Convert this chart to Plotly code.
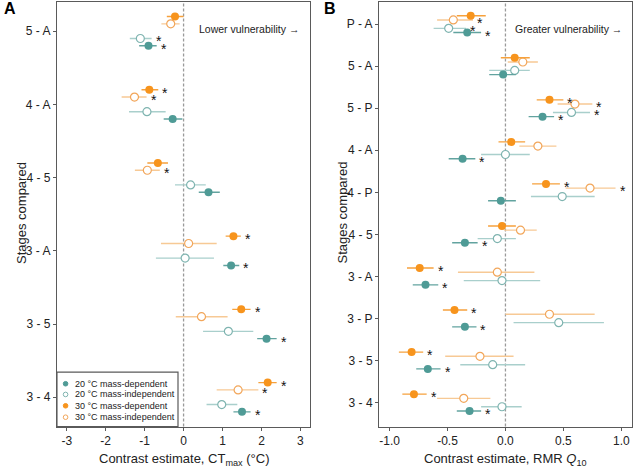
import plotly.graph_objects as go

# ---------------- Data ----------------
# Panel A (CTmax), categories bottom-up
cats_a = ["3 - 4", "3 - 5", "3 - A", "4 - 5", "4 - A", "5 - A"]
a_20dep = [1.50, 2.13, 1.22, 0.64, -0.28, -0.90]
a_20dep_lo = [1.28, 1.89, 1.02, 0.39, -0.51, -1.14]
a_20dep_hi = [1.72, 2.39, 1.43, 0.93, -0.03, -0.69]
a_20ind = [0.98, 1.15, 0.04, 0.18, -0.94, -1.11]
a_20ind_lo = [0.59, 0.50, -0.71, -0.22, -1.40, -1.38]
a_20ind_hi = [1.38, 1.79, 0.78, 0.57, -0.46, -0.82]
a_30dep = [2.16, 1.48, 1.28, -0.66, -0.88, -0.22]
a_30dep_lo = [1.92, 1.25, 1.08, -0.93, -1.08, -0.43]
a_30dep_hi = [2.39, 1.72, 1.47, -0.40, -0.65, 0.00]
a_30ind = [1.40, 0.46, 0.13, -0.93, -1.26, -0.33]
a_30ind_lo = [0.85, -0.20, -0.58, -1.25, -1.59, -0.57]
a_30ind_hi = [1.92, 1.13, 0.85, -0.61, -0.95, -0.10]
a_star_20dep = [1, 1, 1, 0, 0, 1]
a_star_20ind = [0, 0, 0, 0, 0, 1]
a_star_30dep = [1, 1, 1, 0, 1, 0]
a_star_30ind = [1, 0, 0, 1, 1, 0]

# Panel B (RMR Q10), categories bottom-up
cats_b = ["3 - 4", "3 - 5", "3 - P", "3 - A", "4 - 5", "4 - P", "4 - A", "5 - P", "5 - A", "P - A"]
b_20dep = [-0.31, -0.67, -0.35, -0.69, -0.35, -0.04, -0.37, 0.32, -0.02, -0.33]
b_20dep_lo = [-0.42, -0.77, -0.46, -0.80, -0.46, -0.15, -0.49, 0.20, -0.14, -0.45]
b_20dep_hi = [-0.21, -0.56, -0.25, -0.58, -0.24, 0.09, -0.26, 0.42, 0.09, -0.21]
b_20ind = [-0.03, -0.11, 0.46, -0.03, -0.07, 0.49, 0.00, 0.57, 0.08, -0.49]
b_20ind_lo = [-0.21, -0.39, 0.07, -0.36, -0.24, 0.22, -0.21, 0.41, -0.14, -0.62]
b_20ind_hi = [0.14, 0.17, 0.85, 0.30, 0.09, 0.77, 0.21, 0.73, 0.21, -0.34]
b_30dep = [-0.79, -0.81, -0.44, -0.74, -0.03, 0.35, 0.05, 0.38, 0.08, -0.30]
b_30dep_lo = [-0.89, -0.92, -0.54, -0.85, -0.15, 0.23, -0.06, 0.27, -0.04, -0.42]
b_30dep_hi = [-0.68, -0.71, -0.33, -0.62, 0.09, 0.47, 0.17, 0.50, 0.21, -0.17]
b_30ind = [-0.36, -0.22, 0.38, -0.07, 0.13, 0.73, 0.28, 0.60, 0.15, -0.45]
b_30ind_lo = [-0.59, -0.52, 0.00, -0.41, -0.01, 0.52, 0.12, 0.45, 0.02, -0.59]
b_30ind_hi = [-0.13, 0.07, 0.77, 0.25, 0.27, 0.95, 0.44, 0.75, 0.28, -0.28]
b_star_20dep = [1, 1, 1, 1, 1, 0, 1, 1, 0, 1]
b_star_20ind = [0, 0, 0, 0, 0, 0, 0, 1, 0, 1]
b_star_30dep = [1, 1, 1, 1, 0, 1, 0, 1, 0, 0]
b_star_30ind = [0, 0, 0, 0, 0, 1, 0, 1, 0, 1]

x_ticks_a = [-3, -2, -1, 0, 1, 2, 3]
x_ticklabels_a = ["-3", "-2", "-1", "0", "1", "2", "3"]
x_ticks_b = [-1.0, -0.5, 0.0, 0.5, 1.0]
x_ticklabels_b = ["-1.0", "-0.5", "0.0", "0.5", "1.0"]

legend_labels = ["20 °C mass-dependent", "20 °C mass-independent",
                 "30 °C mass-dependent", "30 °C mass-independent"]

# ---------------- Styles ----------------
FONT = "Arial, Liberation Sans, sans-serif"
TEAL = "#4f9b96"
TEAL_BAR = "#62a39f"
TEAL_OPEN = "#7fb4b0"
TEAL_OPEN_BAR = "#a9cfcc"
ORANGE = "#f7941d"
ORANGE_BAR = "#f6a13c"
ORANGE_OPEN = "#f2a65a"
ORANGE_OPEN_BAR = "#f7c995"
AXIS = "#5a5a5a"
TXT = "#222222"

series_style = {
    "20dep": dict(offset=-0.2, filled=True, color=TEAL, bar=TEAL_BAR),
    "20ind": dict(offset=-0.1, filled=False, color=TEAL_OPEN, bar=TEAL_OPEN_BAR),
    "30dep": dict(offset=0.2, filled=True, color=ORANGE, bar=ORANGE_BAR),
    "30ind": dict(offset=0.1, filled=False, color=ORANGE_OPEN, bar=ORANGE_OPEN_BAR),
}

fig = go.Figure()
annotations = []


def add_series(key, est, lo, hi, stars, xa, ya, xref, yref):
    st = series_style[key]
    ys = [i + st["offset"] for i in range(len(est))]
    plus = [h - e for h, e in zip(hi, est)]
    minus = [e - l for e, l in zip(est, lo)]
    if st["filled"]:
        marker = dict(size=8, color=st["color"], line=dict(width=0))
    else:
        marker = dict(size=8, color="white", line=dict(width=1.2, color=st["color"]))
    fig.add_trace(go.Scatter(
        x=est, y=ys, mode="markers", marker=marker,
        error_x=dict(type="data", symmetric=False, array=plus, arrayminus=minus,
                     color=st["bar"], thickness=1.4, width=0),
        xaxis=xa, yaxis=ya, showlegend=False, hoverinfo="skip"))
    for h, y, s in zip(hi, ys, stars):
        if s:
            annotations.append(dict(x=h, y=y, xref=xref, yref=yref, text="*",
                                    showarrow=False, xanchor="left", yanchor="middle",
                                    xshift=2, yshift=-3,
                                    font=dict(family=FONT, size=14, color="#111")))


# draw order: 20 indep, 30 indep, 20 dep, 30 dep
for xa, ya, xr, yr, data in [
    ("x", "y", "x", "y", [
        ("20ind", a_20ind, a_20ind_lo, a_20ind_hi, a_star_20ind),
        ("30ind", a_30ind, a_30ind_lo, a_30ind_hi, a_star_30ind),
        ("20dep", a_20dep, a_20dep_lo, a_20dep_hi, a_star_20dep),
        ("30dep", a_30dep, a_30dep_lo, a_30dep_hi, a_star_30dep)]),
    ("x2", "y2", "x2", "y2", [
        ("20ind", b_20ind, b_20ind_lo, b_20ind_hi, b_star_20ind),
        ("30ind", b_30ind, b_30ind_lo, b_30ind_hi, b_star_30ind),
        ("20dep", b_20dep, b_20dep_lo, b_20dep_hi, b_star_20dep),
        ("30dep", b_30dep, b_30dep_lo, b_30dep_hi, b_star_30dep)]),
]:
    for key, est, lo, hi, stars in data:
        add_series(key, est, lo, hi, stars, xa, ya, xr, yr)

axis_common = dict(showline=True, mirror=True, linecolor=AXIS, linewidth=1.3,
                   ticks="outside", ticklen=3, tickcolor=AXIS, tickwidth=1.2,
                   showgrid=False, zeroline=False, automargin=False,
                   tickfont=dict(family=FONT, size=12, color=TXT))

Y0, Y1 = 0.0867, 0.996
fig.update_layout(
    width=633, height=467,
    margin=dict(l=0, r=0, t=0, b=0),
    paper_bgcolor="white", plot_bgcolor="white",
    xaxis=dict(domain=[0.090, 0.490], range=[-3.25, 3.25], tickvals=x_ticks_a,
               ticktext=x_ticklabels_a, anchor="y", **axis_common),
    yaxis=dict(domain=[Y0, Y1], range=[-0.4, 5.4], tickvals=list(range(len(cats_a))),
               ticktext=cats_a, anchor="x", **axis_common),
    xaxis2=dict(domain=[0.599, 0.998], range=[-1.09, 1.09], tickvals=x_ticks_b,
                ticktext=x_ticklabels_b, anchor="y2", **axis_common),
    yaxis2=dict(domain=[Y0, Y1], range=[-0.57, 9.53], tickvals=list(range(len(cats_b))),
                ticktext=cats_b, anchor="x2", **axis_common),
    showlegend=False,
)

shapes = []
for xr, yr in [("x", "y domain"), ("x2", "y2 domain")]:
    shapes.append(dict(type="line", xref=xr, yref=yr, x0=0, x1=0, y0=0, y1=1,
                       line=dict(color="#9a9a9a", width=1.3, dash="3px,2px"), layer="below"))

# legend box (panel A, bottom-left)
shapes.append(dict(type="rect", xref="x domain", yref="y domain", x0=0, x1=0.478,
                   y0=0, y1=0.128, line=dict(color=AXIS, width=1.2), fillcolor="white"))
leg_y = [0.1007, 0.0755, 0.0488, 0.0219]
leg_marker = [(TEAL, TEAL), ("white", TEAL_OPEN), (ORANGE, ORANGE), ("white", ORANGE_OPEN)]
for yv, (fc, lc), lab in zip(leg_y, leg_marker, legend_labels):
    shapes.append(dict(type="circle", xref="x domain", yref="y domain",
                       xsizemode="pixel", ysizemode="pixel", xanchor=0.034, yanchor=yv,
                       x0=-2.3, x1=2.3, y0=-2.3, y1=2.3, fillcolor=fc,
                       line=dict(color=lc, width=1)))
    annotations.append(dict(x=0.062, y=yv, xref="x domain", yref="y domain", text=lab,
                            showarrow=False, xanchor="left", yanchor="middle",
                            font=dict(family=FONT, size=9, color=TXT)))

# text annotations
annotations += [
    dict(x=197 / 633, y=1 - 29 / 467, xref="paper", yref="paper", text="Lower vulnerability →",
         showarrow=False, xanchor="left", yanchor="middle",
         font=dict(family=FONT, size=10.5, color=TXT)),
    dict(x=512.5 / 633, y=1 - 29 / 467, xref="paper", yref="paper", text="Greater vulnerability →",
         showarrow=False, xanchor="left", yanchor="middle",
         font=dict(family=FONT, size=10.5, color=TXT)),
    dict(x=183.5 / 633, y=1 - 459 / 467, xref="paper", yref="paper",
         text="Contrast estimate, CT<sub>max</sub> (°C)", showarrow=False,
         xanchor="center", yanchor="middle", font=dict(family=FONT, size=13, color=TXT)),
    dict(x=505.7 / 633, y=1 - 459 / 467, xref="paper", yref="paper",
         text="Contrast estimate, RMR <i>Q</i><sub>10</sub>", showarrow=False,
         xanchor="center", yanchor="middle", font=dict(family=FONT, size=13, color=TXT)),
    dict(x=21 / 633, y=1 - 213 / 467, xref="paper", yref="paper", text="Stages compared",
         showarrow=False, textangle=-90, xanchor="center", yanchor="middle",
         font=dict(family=FONT, size=13, color=TXT)),
    dict(x=341.5 / 633, y=1 - 213 / 467, xref="paper", yref="paper", text="Stages compared",
         showarrow=False, textangle=-90, xanchor="center", yanchor="middle",
         font=dict(family=FONT, size=13, color=TXT)),
    dict(x=2 / 633, y=1 - 8 / 467, xref="paper", yref="paper", text="<b>A</b>",
         showarrow=False, xanchor="left", yanchor="middle",
         font=dict(family=FONT, size=16, color="#000")),
    dict(x=322 / 633, y=1 - 8 / 467, xref="paper", yref="paper", text="<b>B</b>",
         showarrow=False, xanchor="left", yanchor="middle",
         font=dict(family=FONT, size=16, color="#000")),
]

fig.update_layout(shapes=shapes, annotations=annotations)
fig.write_html("out.html", config={"displayModeBar": False},
               post_script="document.body.style.margin='0';document.body.style.padding='0';"
                           "document.documentElement.style.overflow='hidden';")
